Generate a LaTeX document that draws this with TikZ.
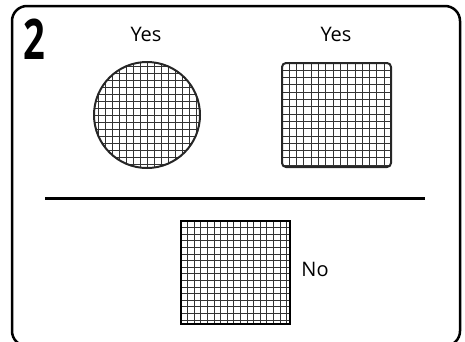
\documentclass[tikz,border=0pt]{standalone}
\usepackage{fontspec}
\setmainfont{Open Sans}

\begin{document}
\begin{tikzpicture}[x=1pt, y=-1pt,
                    frame/.style={line width=2.5pt, rounded corners=15pt},
                    mesh/.style={line width=0.9pt, black!80},
                    outline/.style={line width=2pt, black!85},
                    answer/.style={font=\fontsize{20}{22}\selectfont}]
  \useasboundingbox (0,0) rectangle (465,341);
  \draw[frame] (12,6) rectangle (460,346);
  \node[font=\bfseries\fontsize{56}{56}\selectfont, xscale=0.68] (num) at (34,39) {2};

  % round one
  \begin{scope}
    \clip (147,115) circle (53);
    \draw[mesh, shift={(91,59)}] (0,0) grid[step=7pt] (112,112);
  \end{scope}
  \draw[outline] (147,115) circle (53);
  \node[answer] (yesA) at (146,34) {Yes};

  % square with rounded corners
  \begin{scope}
    \clip[rounded corners=4pt] (282,63) rectangle (391,167);
    \draw[mesh, shift={(282,63)}] (0,0) grid[step=7.3pt] (109,104);
  \end{scope}
  \draw[outline, rounded corners=4pt] (282,63) rectangle (391,167);
  \node[answer] (yesB) at (336,34) {Yes};

  \draw[line width=3pt] (45,198.5) -- (425,198.5);

  % sharp square
  \begin{scope}
    \clip (181,221) rectangle (290,324);
    \draw[mesh, shift={(181,221)}] (0,0) grid[step=6.6pt] (109,103);
  \end{scope}
  \draw[line width=2.6pt] (181,221) rectangle (290,324);
  \node[answer] (no) at (315,269) {No};
\end{tikzpicture}
\end{document}
